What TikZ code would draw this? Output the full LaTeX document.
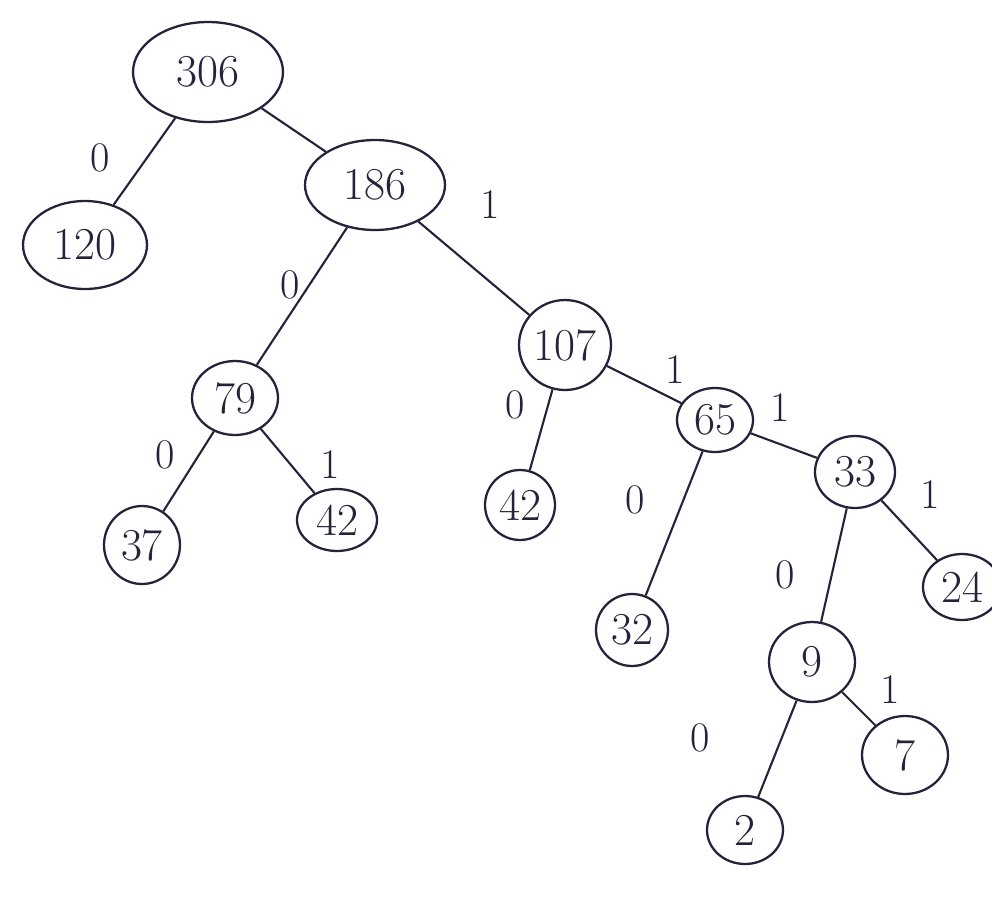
\documentclass[tikz,border=0pt]{standalone}
\usetikzlibrary{shapes.geometric}
\definecolor{ink}{RGB}{35,35,60}
\begin{document}
\begin{tikzpicture}[x=0.02cm,y=-0.02cm,
  nd/.style={ellipse,draw=ink,line width=1.3pt,inner sep=0pt,text=ink,font=\fontsize{26}{26}\selectfont},
  sz/.style 2 args={minimum width=#1*0.569pt,minimum height=#2*0.569pt},
  lbl/.style={text=ink,font=\fontsize{24}{24}\selectfont},
  edge/.style={draw=ink,line width=1.2pt}]
\useasboundingbox (0,0) rectangle (992,897);
\node[nd,sz={150}{100}] (n306) at (208,72) {306};
\node[nd,sz={124}{88}] (n120) at (85,245) {120};
\node[nd,sz={140}{90}] (n186) at (375,185) {186};
\node[nd,sz={86}{74}] (n79) at (235,398) {79};
\node[nd,sz={92}{90}] (n107) at (565,345) {107};
\node[nd,sz={76}{64}] (n65) at (715,420) {65};
\node[nd,sz={80}{72}] (n33) at (855,472) {33};
\node[nd,sz={76}{78}] (n37) at (142,545) {37};
\node[nd,sz={80}{62}] (n42a) at (337,520) {42};
\node[nd,sz={70}{70}] (n42b) at (520,505) {42};
\node[nd,sz={72}{72}] (n32) at (632,630) {32};
\node[nd,sz={78}{66}] (n24) at (962,587) {24};
\node[nd,sz={86}{80}] (n9) at (812,662) {9};
\node[nd,sz={86}{78}] (n7) at (905,755) {7};
\node[nd,sz={76}{68}] (n2) at (745,830) {2};
\draw[edge] (n306) -- (n120);
\draw[edge] (n306) -- (n186);
\draw[edge] (n186) -- (n79);
\draw[edge] (n186) -- (n107);
\draw[edge] (n79) -- (n37);
\draw[edge] (n79) -- (n42a);
\draw[edge] (n107) -- (n42b);
\draw[edge] (n107) -- (n65);
\draw[edge] (n65) -- (n32);
\draw[edge] (n65) -- (n33);
\draw[edge] (n33) -- (n9);
\draw[edge] (n33) -- (n24);
\draw[edge] (n9) -- (n2);
\draw[edge] (n9) -- (n7);
\node[lbl] (l1) at (100,158) {0};
\node[lbl] (l2) at (490,205) {1};
\node[lbl] (l3) at (290,285) {0};
\node[lbl] (l4) at (165,455) {0};
\node[lbl] (l5) at (330,465) {1};
\node[lbl] (l6) at (515,405) {0};
\node[lbl] (l7) at (675,370) {1};
\node[lbl] (l8) at (635,500) {0};
\node[lbl] (l9) at (780,408) {1};
\node[lbl] (l10) at (930,495) {1};
\node[lbl] (l11) at (785,575) {0};
\node[lbl] (l12) at (890,690) {1};
\node[lbl] (l13) at (700,738) {0};
\end{tikzpicture}
\end{document}
